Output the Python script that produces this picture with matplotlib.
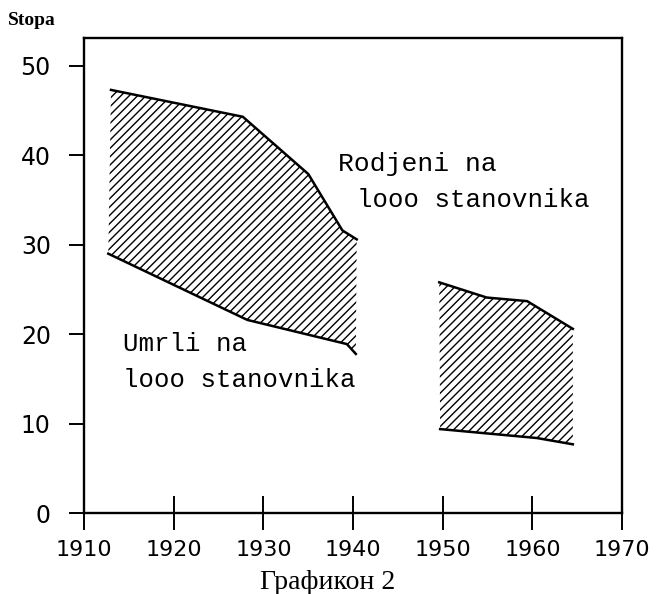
import numpy as np
import matplotlib

matplotlib.use("Agg")
import matplotlib.pyplot as plt

# birth / death rates per 1000
years_birth_a = [1913.0, 1927.7, 1935.0, 1938.8, 1940.4]
birth_a = [47.3, 44.3, 37.9, 31.6, 30.6]
years_death_a = [1912.7, 1928.2, 1939.3, 1940.3]
death_a = [29.0, 21.6, 18.9, 17.8]

years_birth_b = [1949.6, 1954.9, 1959.4, 1964.5]
birth_b = [25.8, 24.1, 23.7, 20.6]
years_death_b = [1949.7, 1960.5, 1964.5]
death_b = [9.4, 8.4, 7.7]

x_ticks = [1910, 1920, 1930, 1940, 1950, 1960, 1970]
y_ticks = [0, 10, 20, 30, 40, 50]

plt.rcParams["hatch.linewidth"] = 1.0

fig = plt.figure(figsize=(6.57, 5.94), dpi=100)
ax = fig.add_axes([0.128, 0.136, 0.819, 0.800])

for xb, yb, xd, yd in [(years_birth_a, birth_a, years_death_a, death_a),
                       (years_birth_b, birth_b, years_death_b, death_b)]:
    px = np.r_[xb, xd[::-1]]
    py = np.r_[yb, yd[::-1]]
    ax.fill(px, py, facecolor="none", edgecolor="black", hatch="////", lw=0)
    ax.plot(xb, yb, color="black", lw=1.8)
    ax.plot(xd, yd, color="black", lw=1.8)

ax.set_xlim(1910, 1970)
ax.set_ylim(0, 53.1)
for sp in ax.spines.values():
    sp.set_linewidth(1.7)

ax.set_xticks(x_ticks)
ax.set_xticklabels([str(v) for v in x_ticks], fontsize=16)
ax.set_yticks(y_ticks)
ax.set_yticklabels([str(v) for v in y_ticks], fontsize=17)
ax.tick_params(axis="x", direction="inout", length=24, width=1.4, pad=7)
ax.tick_params(axis="y", direction="out", length=11, width=1.4, pad=13)

mono = "Liberation Mono"
ax.text(1938.3, 39.0, "Rodjeni na", family=mono, fontsize=19, va="center")
ax.text(1940.4, 35.0, "looo stanovnika", family=mono, fontsize=18.5, va="center")
ax.text(1914.3, 18.9, "Umrli na", family=mono, fontsize=18.5, va="center")
ax.text(1914.3, 14.9, "looo stanovnika", family=mono, fontsize=18.5, va="center")

fig.text(0.012, 0.966, "Stopa", family="Liberation Serif", fontsize=14,
         fontweight="bold", va="center")
fig.text(0.499, 0.020, "Графикон 2", family="Liberation Serif", fontsize=20,
         ha="center", va="center")

fig.savefig("out.png", dpi=100)
